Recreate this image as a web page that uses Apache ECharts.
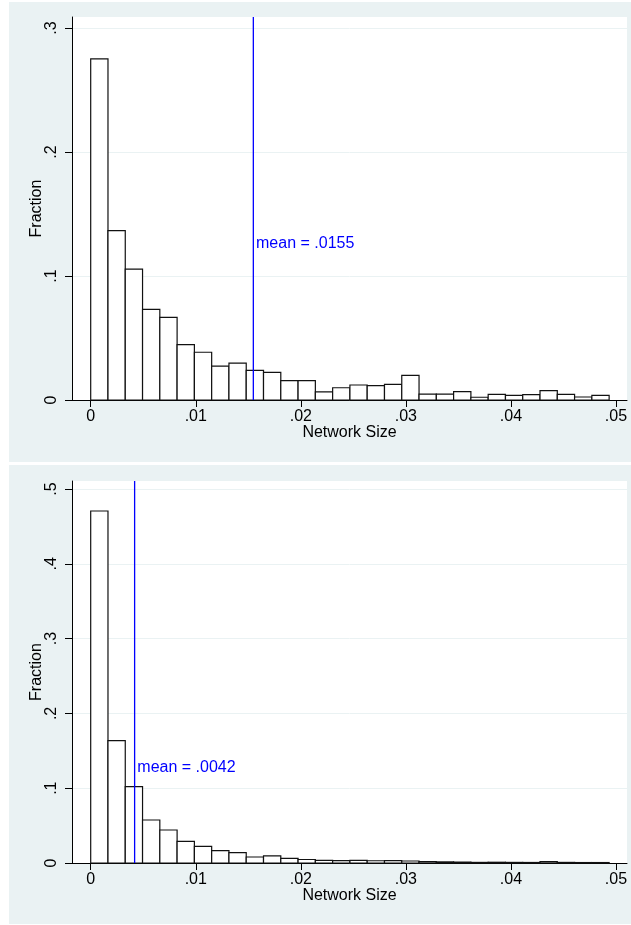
<!DOCTYPE html>
<html>
<head>
<meta charset="utf-8">
<style>
  html, body { margin: 0; padding: 0; background: #ffffff; }
  #chart { width: 631px; height: 925px; }
</style>
<script src="https://cdn.jsdelivr.net/npm/echarts@6/dist/echarts.min.js"></script>
</head>
<body>
<div id="chart"></div>
<script>
// Histogram bins: 30 equal-width bins starting at zero
const binStart = 0;
const binWidth = 0.001645;

// Fraction of observations in each bin (upper panel)
const fractionTop = [
  0.2752, 0.1366, 0.1056, 0.0731, 0.0667, 0.0446, 0.0385, 0.0274, 0.0298, 0.0239,
  0.0223, 0.0156, 0.0156, 0.0065, 0.0099, 0.0121, 0.0116, 0.0126, 0.0199, 0.0048,
  0.0048, 0.0067, 0.0022, 0.0046, 0.0038, 0.0043, 0.0075, 0.0046, 0.0024, 0.0038
];
// Fraction of observations in each bin (lower panel)
const fractionBottom = [
  0.4706, 0.1636, 0.1020, 0.0575, 0.0441, 0.0290, 0.0223, 0.0165, 0.0140, 0.0080,
  0.0096, 0.0062, 0.0047, 0.0036, 0.0033, 0.0036, 0.0030, 0.0031, 0.0027, 0.0018,
  0.0015, 0.0012, 0.0008, 0.0010, 0.0008, 0.0007, 0.0018, 0.0008, 0.0006, 0.0006
];

const meanTop = 0.0155;
const meanBottom = 0.0042;

// Tick labels
const xTicks = [0, 0.01, 0.02, 0.03, 0.04, 0.05];
const yTicksTop = [0, 0.1, 0.2, 0.3];
const yTicksBottom = [0, 0.1, 0.2, 0.3, 0.4, 0.5];

const xTitle = 'Network Size';
const yTitle = 'Fraction';

// Stata-style number format: drop the leading zero
function fmt(v) {
  if (v === 0) return '0';
  let s = String(+v.toFixed(6));
  return s.replace(/^0\./, '.');
}

function bins(values) {
  return values.map((v, i) => [binStart + i * binWidth, binStart + (i + 1) * binWidth, v]);
}

const FONT = 'Liberation Sans, Arial, Helvetica, sans-serif';
const BG = '#eaf2f3';
const INK = '#000000';
const BLUE = '#0000ff';

function renderBin(params, api) {
  const lo = api.value(0), hi = api.value(1), v = api.value(2);
  const p0 = api.coord([lo, v]);
  const p1 = api.coord([hi, 0]);
  return {
    type: 'rect',
    shape: { x: p0[0], y: p0[1], width: p1[0] - p0[0], height: p1[1] - p0[1] },
    style: { fill: '#ffffff', stroke: '#111111', lineWidth: 1.2 }
  };
}

// Vertical reference line at the mean, spanning the plot height, with its label
function renderMean(params, api) {
  const m = api.value(0), ly = api.value(1);
  const base = api.coord([m, 0]);
  const lab = api.coord([m, ly]);
  const top = params.coordSys.y;
  return {
    type: 'group',
    children: [
      {
        type: 'line',
        shape: { x1: base[0] - 0.2, y1: base[1], x2: base[0] - 0.2, y2: top },
        style: { stroke: BLUE, lineWidth: 1.3 }
      },
      {
        type: 'text',
        x: base[0] + 2.5, y: lab[1],
        style: {
          text: 'mean = ' + fmt(m),
          fill: BLUE, font: '16px ' + FONT,
          textAlign: 'left', textVerticalAlign: 'middle'
        }
      }
    ]
  };
}

function xAxisFor(gridIndex) {
  return {
    type: 'value', gridIndex,
    min: -0.00178, max: 0.05105,
    name: xTitle, nameLocation: 'middle', nameGap: 25, nameMoveOverlap: false,
    nameTextStyle: { fontFamily: FONT, fontSize: 16, color: INK },
    axisLine: { show: true, onZero: false, lineStyle: { color: INK, width: 1 } },
    axisTick: { show: true, length: 7, customValues: xTicks, lineStyle: { color: INK, width: 1 } },
    axisLabel: { customValues: xTicks, formatter: fmt, fontFamily: FONT, fontSize: 16, color: INK, margin: 9 },
    splitLine: { show: false }
  };
}

function yAxisFor(gridIndex, max, ticks) {
  return {
    type: 'value', gridIndex,
    min: 0, max,
    name: yTitle, nameLocation: 'middle', nameGap: 27, nameMoveOverlap: false,
    nameTextStyle: { fontFamily: FONT, fontSize: 16, color: INK },
    axisLine: { show: true, onZero: false, lineStyle: { color: INK, width: 1 } },
    axisTick: { show: true, length: 7, customValues: ticks, lineStyle: { color: INK, width: 1 } },
    axisLabel: { customValues: ticks, formatter: fmt, rotate: 90, fontFamily: FONT, fontSize: 16, color: INK, margin: 12 },
    splitLine: { show: true, lineStyle: { color: BG, width: 1 } }
  };
}

function histSeries(idx, values) {
  return {
    type: 'custom', xAxisIndex: idx, yAxisIndex: idx,
    renderItem: renderBin, encode: { x: [0, 1], y: 2 },
    data: bins(values), z: 3
  };
}

function meanSeries(idx, mean, labelY) {
  return {
    type: 'custom', xAxisIndex: idx, yAxisIndex: idx,
    silent: true, z: 5, clip: false,
    renderItem: renderMean,
    encode: { x: 0, y: 1 },
    data: [[mean, labelY]]
  };
}

const chart = echarts.init(document.getElementById('chart'), null, { renderer: 'canvas' });

chart.setOption({
  animation: false,
  backgroundColor: '#ffffff',
  graphic: [
    { type: 'rect', z: -10, shape: { x: 9, y: 2, width: 622, height: 460 }, style: { fill: BG } },
    { type: 'rect', z: -10, shape: { x: 9, y: 465, width: 622, height: 459 }, style: { fill: BG } }
  ],
  grid: [
    { left: 72, top: 17, width: 555, height: 383, show: true, backgroundColor: '#ffffff', borderWidth: 0 },
    { left: 72, top: 481, width: 555, height: 382, show: true, backgroundColor: '#ffffff', borderWidth: 0 }
  ],
  xAxis: [xAxisFor(0), xAxisFor(1)],
  yAxis: [yAxisFor(0, 0.3089, yTicksTop), yAxisFor(1, 0.5107, yTicksBottom)],
  series: [
    histSeries(0, fractionTop),
    histSeries(1, fractionBottom),
    meanSeries(0, meanTop, 0.126),
    meanSeries(1, meanBottom, 0.128)
  ]
});
</script>
</body>
</html>
